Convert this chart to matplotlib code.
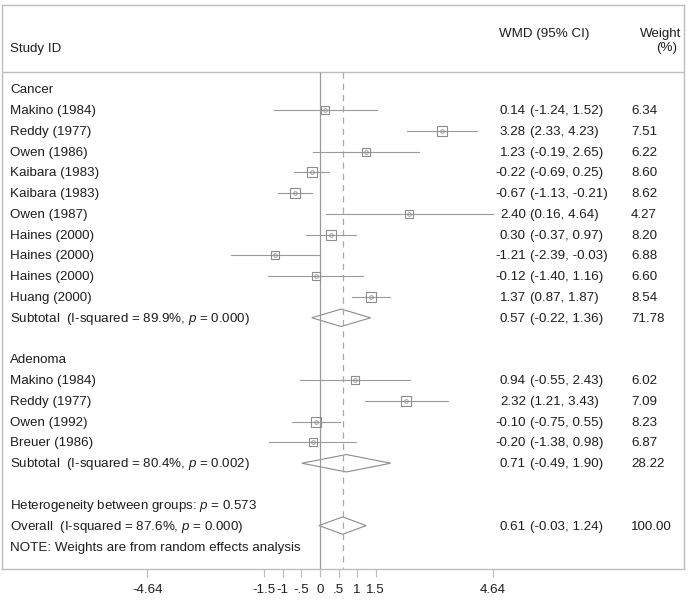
"""
Forest plot: WMD by subgroup (cancer / adenoma), random effects
"""

import matplotlib
matplotlib.use("Agg")
import matplotlib.pyplot as plt

plt.rcParams['font.family'] = ['Liberation Sans', 'DejaVu Sans']
plt.rcParams['mathtext.fontset'] = 'custom'
plt.rcParams['mathtext.rm'] = 'Liberation Sans'
plt.rcParams['mathtext.it'] = 'Liberation Sans:italic'

# ---- data ----
cancer_studies = ['Makino (1984)', 'Reddy (1977)', 'Owen (1986)', 'Kaibara (1983)', 'Kaibara (1983)',
                  'Owen (1987)', 'Haines (2000)', 'Haines (2000)', 'Haines (2000)', 'Huang (2000)']
cancer_wmd = [0.14, 3.28, 1.23, -0.22, -0.67, 2.40, 0.30, -1.21, -0.12, 1.37]
cancer_lo = [-1.24, 2.33, -0.19, -0.69, -1.13, 0.16, -0.37, -2.39, -1.40, 0.87]
cancer_hi = [1.52, 4.23, 2.65, 0.25, -0.21, 4.64, 0.97, -0.03, 1.16, 1.87]
cancer_wt = [6.34, 7.51, 6.22, 8.60, 8.62, 4.27, 8.20, 6.88, 6.60, 8.54]
cancer_sub = [0.57, -0.22, 1.36, 71.78]
cancer_i2, cancer_p = '89.9%', '0.000'

adenoma_studies = ['Makino (1984)', 'Reddy (1977)', 'Owen (1992)', 'Breuer (1986)']
adenoma_wmd = [0.94, 2.32, -0.10, -0.20]
adenoma_lo = [-0.55, 1.21, -0.75, -1.38]
adenoma_hi = [2.43, 3.43, 0.55, 0.98]
adenoma_wt = [6.02, 7.09, 8.23, 6.87]
adenoma_sub = [0.71, -0.49, 1.90, 28.22]
adenoma_i2, adenoma_p = '80.4%', '0.002'

overall = [0.61, -0.03, 1.24, 100.00]
overall_i2, overall_p = '87.6%', '0.000'
het_p = '0.573'

xticks = [-4.64, -1.5, -1, -0.5, 0, 0.5, 1, 1.5, 4.64]
xtick_labels = ['-4.64', '-1.5', '-1', '-.5', '0', '.5', '1', '1.5', '4.64']

# ---- layout (pixels) ----
W, H = 690, 600
X0, PX = 320, 37.2          # pixel of zero, pixels per unit
BOX_L, BOX_R, BOX_T, BOX_B = 2, 684, 5, 569
HEAD_Y = 72
ROW0, DROW = 89.2, 20.78
TY = 1.0                    # text nudge so caps sit on the row line

TXT = '#1e1e1e'
LINE = '#9a9a9a'
BORDER = '#bdbdbd'
FS = 9.6


def v(px):
    """pixel x -> data x"""
    return (px - X0) / PX


def row_y(i):
    return ROW0 + DROW * i


def label(x_px, y, s, ha='left'):
    ax.text(v(x_px), y + TY, s, fontsize=FS, color=TXT, va='center', ha=ha)


fig = plt.figure(figsize=(W / 100, H / 100), dpi=100)
fig.patch.set_facecolor('white')
ax = fig.add_axes([BOX_L / W, (H - BOX_B) / H, (BOX_R - BOX_L) / W, (BOX_B - BOX_T) / H])
ax.set_xlim(v(BOX_L), v(BOX_R))
ax.set_ylim(BOX_B, BOX_T)
for s in ax.spines.values():
    s.set_color(BORDER)
    s.set_linewidth(1.0)
ax.set_yticks([])
ax.set_xticks(xticks)
ax.set_xticklabels(xtick_labels, fontsize=FS, color=TXT)
ax.tick_params(axis='x', direction='out', length=6, width=0.8, color=BORDER, pad=4.5)

# header
ax.axhline(HEAD_Y, color=BORDER, lw=1.0)
label(10, 48, 'Study ID')
label(499, 33, 'WMD (95% CI)')
label(681, 33, 'Weight', ha='right')
label(677, 47, '(%)', ha='right')

# reference lines
ax.vlines(0, HEAD_Y, BOX_B, color=LINE, lw=0.9)
ax.vlines(overall[0], HEAD_Y, BOX_B, color='#a8a8a8', lw=0.9, linestyles=(0, (5, 4)))


def stats_text(y, est, lo, hi, wt):
    label(526, y, f'{est:.2f}', ha='right')
    label(529.5, y, f'({lo:.2f}, {hi:.2f})')
    label(631, y, f'{wt:.2f}')


def draw_study(i, name, est, lo, hi, wt):
    y = row_y(i)
    label(10, y, name)
    ax.plot([lo, hi], [y, y], color=LINE, lw=0.8)
    side = 3.4 * wt ** 0.5 * 0.72
    ax.plot([est], [y], marker='s', ms=side, mfc='none', mec='#8c8c8c', mew=0.8, ls='none')
    ax.plot([est], [y], marker='o', ms=2.6, mfc='none', mec='#8c8c8c', mew=0.6, ls='none')
    stats_text(y, est, lo, hi, wt)


def draw_diamond(i, text, est, lo, hi, wt):
    y = row_y(i)
    label(10, y, text)
    hh = 8.7
    ax.fill([lo, est, hi, est, lo], [y, y - hh, y, y + hh, y], facecolor='none', edgecolor='#8c8c8c', lw=0.8)
    stats_text(y, est, lo, hi, wt)


i = 0
label(10, row_y(i), 'Cancer')
for k in range(len(cancer_studies)):
    i += 1
    draw_study(i, cancer_studies[k], cancer_wmd[k], cancer_lo[k], cancer_hi[k], cancer_wt[k])
i += 1
draw_diamond(i, f'Subtotal  (I-squared = {cancer_i2}, $p$ = {cancer_p})', *cancer_sub)

i += 2
label(10, row_y(i), 'Adenoma')
for k in range(len(adenoma_studies)):
    i += 1
    draw_study(i, adenoma_studies[k], adenoma_wmd[k], adenoma_lo[k], adenoma_hi[k], adenoma_wt[k])
i += 1
draw_diamond(i, f'Subtotal  (I-squared = {adenoma_i2}, $p$ = {adenoma_p})', *adenoma_sub)

i += 2
label(10, row_y(i), f'Heterogeneity between groups: $p$ = {het_p}')
i += 1
draw_diamond(i, f'Overall  (I-squared = {overall_i2}, $p$ = {overall_p})', *overall)
i += 1
label(10, row_y(i) + 1, 'NOTE: Weights are from random effects analysis')

fig.savefig('out.png', dpi=100)
